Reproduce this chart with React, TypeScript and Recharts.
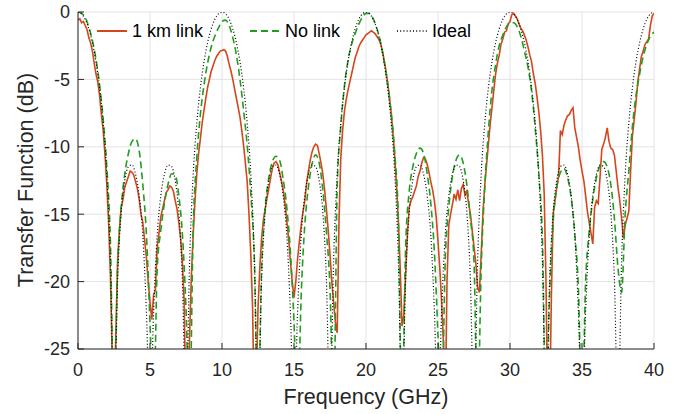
import { LineChart, Line, XAxis, YAxis, CartesianGrid, Legend } from "recharts";

// frequency grid steps (GHz)
const STEP = 0.25;
const RED_STEP = 0.125;

// -30 marks points that fall below the axis (deep nulls)
const ideal = [
  0, -0.14, -0.54, -1.25, -2.28, -3.7, -5.62, -8.24, -12.04, -18.49,
  -30, -19.86, -14.82, -12.5, -11.47, -11.35, -12.04, -13.64, -16.55, -22.22,
  -30, -22.22, -16.55, -13.64, -12.04, -11.35, -11.47, -12.5, -14.82, -19.86,
  -30, -18.49, -12.04, -8.24, -5.62, -3.7, -2.28, -1.25, -0.54, -0.14,
  0, -0.14, -0.54, -1.25, -2.28, -3.7, -5.62, -8.24, -12.04, -18.49,
  -30, -19.86, -14.82, -12.5, -11.47, -11.35, -12.04, -13.64, -16.55, -22.22,
  -30, -22.22, -16.55, -13.64, -12.04, -11.35, -11.47, -12.5, -14.82, -19.86,
  -30, -18.49, -12.04, -8.24, -5.62, -3.7, -2.28, -1.25, -0.54, -0.14,
  0, -0.14, -0.54, -1.25, -2.28, -3.7, -5.62, -8.24, -12.04, -18.49,
  -30, -19.86, -14.82, -12.5, -11.47, -11.35, -12.04, -13.64, -16.55, -22.22,
  -30, -22.22, -16.55, -13.64, -12.04, -11.35, -11.47, -12.5, -14.82, -19.86,
  -30, -18.49, -12.04, -8.24, -5.62, -3.7, -2.28, -1.25, -0.54, -0.14,
  0, -0.14, -0.54, -1.25, -2.28, -3.7, -5.62, -8.24, -12.04, -18.49,
  -30, -19.86, -14.82, -12.5, -11.47, -11.35, -12.04, -13.64, -16.55, -22.22,
  -30, -22.22, -16.55, -13.64, -12.04, -11.35, -11.47, -12.5, -14.82, -19.86,
  -30, -18.49, -12.04, -8.24, -5.62, -3.7, -2.28, -1.25, -0.54, -0.14,
  0,
];

const noLink = [
  0, -0.1, -0.4, -1.1, -2.1, -3.5, -5.4, -8.0, -11.5, -17.0,
  -30, -19.0, -14.5, -12.0, -10.5, -9.6, -9.4, -10.3, -12.8, -16.5,
  -23.0, -30, -19.0, -16.2, -14.2, -12.8, -12.0, -12.1, -13.6, -16.5,
  -22.0, -30, -16.0, -10.8, -7.6, -5.4, -3.8, -2.6, -1.8, -1.2,
  -0.7, -0.6, -1.0, -1.9, -3.2, -5.0, -7.3, -9.9, -13.5, -18.5,
  -30, -19.0, -14.5, -12.3, -11.1, -10.7, -11.0, -12.4, -14.5, -17.8,
  -23.0, -30, -21.0, -15.8, -13.0, -11.3, -10.6, -11.2, -13.2, -16.3,
  -20.5, -30, -13.0, -8.5, -5.5, -3.6, -2.4, -1.6, -0.9, -0.4,
  -0.1, -0.1, -0.5, -1.2, -2.2, -3.6, -5.3, -7.5, -10.5, -15.5,
  -30, -17.5, -13.3, -11.5, -10.5, -10.1, -10.5, -12.0, -14.2, -17.8,
  -24.0, -30, -18.5, -14.5, -12.2, -11.0, -10.6, -11.2, -12.8, -15.3,
  -18.5, -30, -19.0, -13.0, -8.8, -5.8, -3.9, -2.5, -1.7, -1.1,
  -0.8, -0.8, -1.1, -1.8, -2.9, -4.1, -5.9, -8.6, -12.0, -16.8,
  -30, -21.0, -15.5, -13.0, -11.9, -11.6, -12.3, -13.8, -16.5, -20.5,
  -30, -20.0, -16.3, -13.9, -12.3, -11.4, -11.1, -11.5, -12.8, -15.3,
  -19.0, -20.8, -15.0, -11.8, -8.5, -6.2, -4.6, -3.3, -2.4, -1.8,
  -1.5,
];

// measured 1 km link, one row per GHz (0.125 GHz step)
const link1km = [
  -0.6, -0.5, -0.8, -0.7, -1.0, -1.3, -1.9, -2.3,
  -2.9, -3.8, -4.6, -5.2, -6.2, -7.6, -8.8, -10.6,
  -12.8, -15.6, -19.5, -25.5, -30, -24.0, -18.5, -16.2,
  -14.5, -13.9, -13.0, -12.6, -12.2, -11.8, -11.9, -12.1,
  -12.6, -13.1, -13.9, -15.0, -15.6, -16.9, -18.2, -20.0,
  -21.5, -22.8, -21.0, -20.6, -17.5, -16.4, -15.2, -14.6,
  -14.0, -13.4, -13.2, -12.9, -13.0, -13.3, -14.0, -14.6,
  -15.6, -16.8, -18.6, -21.5, -30, -30, -24.0, -19.5,
  -16.5, -14.0, -12.0, -10.5, -9.4, -8.2, -7.3, -6.4,
  -5.6, -5.0, -4.4, -4.0, -3.6, -3.3, -3.1, -2.9,
  -2.85, -2.8, -2.9, -3.3, -3.9, -4.4, -5.0, -5.7,
  -6.4, -7.1, -7.8, -8.8, -9.9, -11.2, -12.6, -15.0,
  -18.0, -22.0, -30, -28.0, -22.0, -19.0, -16.8, -15.4,
  -14.6, -13.8, -13.1, -12.3, -11.6, -11.2, -11.1, -11.3,
  -11.9, -12.5, -13.2, -14.2, -15.5, -16.8, -18.5, -20.0,
  -21.2, -20.0, -18.3, -17.0, -15.8, -14.8, -14.0, -12.7,
  -11.8, -11.0, -10.4, -10.0, -9.8, -9.9, -10.5, -11.2,
  -12.0, -13.2, -14.6, -16.2, -18.0, -20.0, -21.5, -23.0,
  -23.8, -15.5, -10.8, -8.8, -7.4, -6.5, -5.8, -5.2,
  -4.6, -4.0, -3.4, -3.0, -2.6, -2.3, -2.1, -1.9,
  -1.7, -1.6, -1.5, -1.4, -1.5, -1.6, -1.8, -2.0,
  -2.3, -2.8, -3.5, -4.3, -5.2, -6.3, -7.5, -9.0,
  -10.8, -13.0, -15.5, -19.0, -23.3, -22.5, -19.5, -16.5,
  -14.5, -14.0, -13.7, -13.3, -12.9, -12.2, -11.8, -11.2,
  -10.8, -10.9, -11.3, -11.9, -12.6, -13.2, -14.0, -15.2,
  -17.0, -19.0, -21.5, -24.5, -30, -20.0, -15.8, -15.0,
  -14.3, -13.5, -13.9, -13.2, -14.0, -13.1, -12.8, -13.6,
  -13.3, -14.2, -15.0, -16.2, -17.4, -18.6, -20.4, -20.8,
  -18.0, -14.8, -12.8, -11.3, -9.8, -8.3, -7.1, -5.8,
  -4.6, -3.8, -3.2, -2.4, -2.0, -1.5, -1.4, -0.9,
  -0.7, -0.2, -0.1, -0.3, -0.5, -0.9, -1.2, -1.4,
  -1.7, -2.1, -2.6, -3.2, -3.7, -4.6, -5.3, -6.3,
  -7.4, -8.8, -10.6, -13.5, -20.0, -30, -30, -21.0,
  -15.0, -14.0, -13.0, -12.2, -8.8, -9.1, -8.4, -8.0,
  -7.7, -7.6, -7.3, -7.1, -8.6, -9.3, -10.0, -11.0,
  -11.8, -12.5, -13.6, -14.8, -15.6, -16.4, -17.2, -14.5,
  -14.0, -14.2, -12.3, -10.2, -9.8, -9.3, -8.6, -9.6,
  -10.1, -10.2, -10.6, -11.8, -13.0, -14.0, -15.3, -16.8,
  -15.8, -15.3, -14.8, -11.8, -9.2, -8.0, -6.7, -5.2,
  -4.2, -3.3, -2.9, -2.4, -2.2, -2.0, -1.0, -0.3,
  -0.1,
];

const xTicks = [0, 5, 10, 15, 20, 25, 30, 35, 40];
const yTicks = [-25, -20, -15, -10, -5, 0];

const data = ideal.map((v, i) => ({ f: i * STEP, ideal: v, noLink: noLink[i] }));
const redData = link1km.map((v, i) => ({ f: i * RED_STEP, link1km: v }));

const FONT = "'Liberation Sans', Arial, Helvetica, sans-serif";
const AXIS = "#262626";
const RED = "#d4461c";
const GREEN = "#1f9e1f";

const legendItems = [
  { name: "1 km link", color: RED, dash: undefined, width: 2, left: 97 },
  { name: "No link", color: GREEN, dash: "7 4", width: 2, left: 250 },
  { name: "Ideal", color: "#000000", dash: "1 2.2", width: 1.5, left: 397 },
];

function LegendContent() {
  return (
    <div style={{ position: "relative", height: 24, fontFamily: FONT, fontSize: 18, color: "#000" }}>
      {legendItems.map((it) => (
        <div key={it.name} style={{ position: "absolute", left: it.left, top: 0, display: "flex", alignItems: "center", whiteSpace: "nowrap" }}>
          <svg width={30} height={10}>
            <line x1={0} y1={5} x2={30} y2={5} stroke={it.color} strokeWidth={it.width} strokeDasharray={it.dash} />
          </svg>
          <span style={{ marginLeft: 5, lineHeight: "24px" }}>{it.name}</span>
        </div>
      ))}
    </div>
  );
}

export default function App() {
  return (
    <div style={{ position: "absolute", left: 0, top: 0, width: 691, height: 414, background: "#fff" }}>
      <LineChart width={691} height={414} data={data} margin={{ top: 12, right: 37, bottom: 35, left: 18 }}>
        <CartesianGrid stroke="#e3e3e3" strokeWidth={1} />
        <XAxis
          dataKey="f"
          type="number"
          domain={[0, 40]}
          ticks={xTicks}
          allowDataOverflow
          height={30}
          tickSize={-6}
          tickMargin={20}
          stroke={AXIS}
          tick={{ fill: AXIS, fontSize: 18, fontFamily: FONT }}
          label={{
            content: () => (
              <text x={366} y={397} textAnchor="middle" dominantBaseline="central" fill={AXIS} fontSize={21.5} fontFamily={FONT}>
                Frequency (GHz)
              </text>
            ),
          }}
        />
        <XAxis xAxisId="top" orientation="top" dataKey="f" type="number" domain={[0, 40]} ticks={xTicks} height={0} tickSize={-6} tick={false} stroke={AXIS} />
        <YAxis
          type="number"
          domain={[-25, 0]}
          ticks={yTicks}
          allowDataOverflow
          width={60}
          tickSize={-6}
          tickMargin={14}
          stroke={AXIS}
          tick={{ fill: AXIS, fontSize: 18, fontFamily: FONT }}
          label={{
            content: () => (
              <text x={26} y={180} transform="rotate(-90 26 180)" textAnchor="middle" dominantBaseline="central" fill={AXIS} fontSize={21.5} fontFamily={FONT}>
                Transfer Function (dB)
              </text>
            ),
          }}
        />
        <YAxis yAxisId="right" orientation="right" type="number" domain={[-25, 0]} ticks={yTicks} width={0} tickSize={-6} tick={false} stroke={AXIS} />
        <Legend
          layout="horizontal"
          verticalAlign="middle"
          align="center"
          content={<LegendContent />}
          wrapperStyle={{ top: 19, left: 0, width: 691 }}
        />
        <Line data={redData} dataKey="link1km" name="1 km link" stroke={RED} strokeWidth={1.6} dot={false} isAnimationActive={false} type="linear" />
        <Line dataKey="noLink" name="No link" stroke={GREEN} strokeWidth={1.6} strokeDasharray="7 4" dot={false} isAnimationActive={false} type="monotone" />
        <Line dataKey="ideal" name="Ideal" stroke="#000000" strokeWidth={1.2} strokeDasharray="1 2.2" dot={false} isAnimationActive={false} type="monotone" />
      </LineChart>
    </div>
  );
}
